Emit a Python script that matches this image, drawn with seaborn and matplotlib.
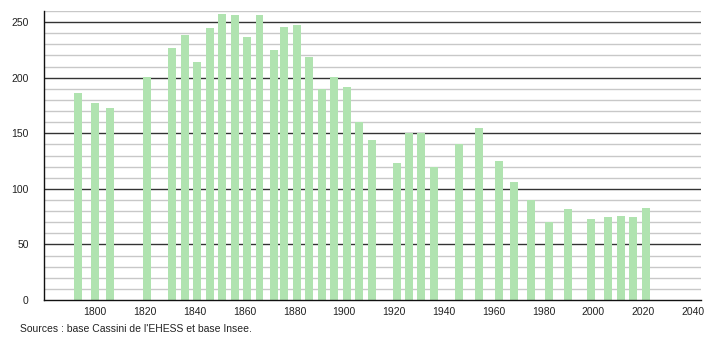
import matplotlib
matplotlib.use("Agg")
import matplotlib.pyplot as plt
import seaborn as sns
import pandas as pd
import numpy as np
from matplotlib.ticker import MultipleLocator

years = [1793, 1800, 1806, 1821, 1831, 1836, 1841, 1846, 1851, 1856, 1861, 1866,
         1872, 1876, 1881, 1886, 1891, 1896, 1901, 1906, 1911, 1921, 1926, 1931,
         1936, 1946, 1954, 1962, 1968, 1975, 1982, 1990, 1999, 2006, 2011, 2016, 2021]
population = [186, 177, 173, 201, 227, 238, 214, 245, 257, 256, 237, 256,
              225, 246, 247, 219, 190, 201, 192, 160, 144, 123, 150, 150,
              120, 140, 155, 125, 106, 90, 70, 82, 73, 75, 76, 75, 83]
x_ticks = [1800, 1820, 1840, 1860, 1880, 1900, 1920, 1940, 1960, 1980, 2000, 2020, 2040]
y_ticks = [0, 50, 100, 150, 200, 250]
source_text = "Sources : base Cassini de l'EHESS et base Insee."

df = pd.DataFrame({"year": years, "pop": population})

sns.set_style("white")
plt.rcParams['font.family'] = ['Liberation Sans', 'DejaVu Sans']

fig = plt.figure(figsize=(7.1, 3.4), dpi=100)
ax = fig.add_axes([44/710, 40/340, (701-44)/710, (300-11)/340])

sns.barplot(data=df, x="year", y="pop", native_scale=True, color="#b0e3b0",
            saturation=1, ax=ax, zorder=3, linewidth=0)

ax.set_xlim(1779.5, 2043.2)
ax.set_ylim(0, 260)

# gridlines
for v in range(10, 261, 10):
    if v % 50 == 0:
        ax.axhline(v, color="#333333", lw=1.0, zorder=1)
    else:
        ax.axhline(v, color="#c8c8c8", lw=1.0, zorder=1)

ax.set_xticks(x_ticks)
ax.set_xticklabels([str(t) for t in x_ticks])
ax.set_yticks(y_ticks)
ax.yaxis.set_minor_locator(MultipleLocator(10))
ax.tick_params(axis="x", length=0, labelsize=7.5, pad=5, colors="#222222")
ax.tick_params(axis="y", which="major", length=5, width=1, labelsize=7.5, pad=6, colors="#222222")
ax.tick_params(axis="y", which="minor", length=3, width=1, color="#222222")
ax.set_xlabel("")
ax.set_ylabel("")

for s in ["top", "right"]:
    ax.spines[s].set_visible(False)
for s in ["left", "bottom"]:
    ax.spines[s].set_color("#111111")
    ax.spines[s].set_linewidth(1.0)
    ax.spines[s].set_zorder(4)

fig.text(20/710, 1 - 329/340, source_text, fontsize=7.5, color="#222222",
         ha="left", va="center")

fig.savefig("out.png", dpi=100)
